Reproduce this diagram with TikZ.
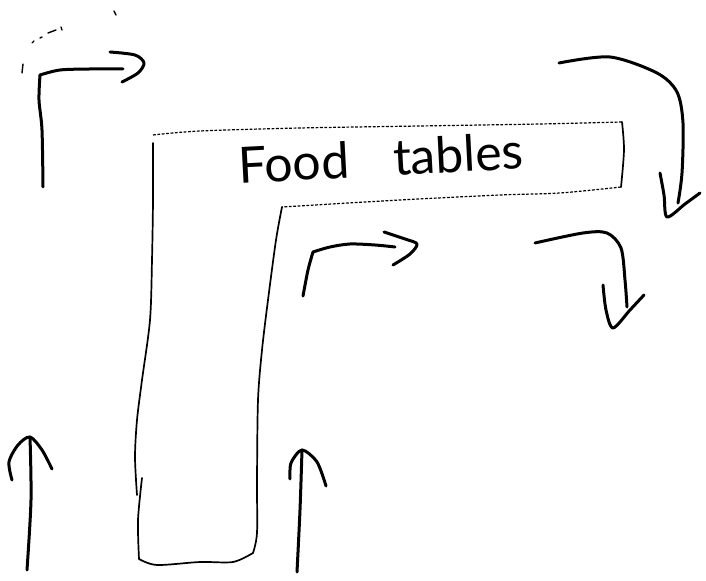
\documentclass[tikz,border=0pt]{standalone}
\usepackage{fontspec}
\newfontfamily\handfont{Lato}
\begin{document}
\begin{tikzpicture}[x=0.5pt,y=-0.5pt,
  pen/.style={line width=1.5pt, line cap=round, line join=round},
  boxline/.style={line width=0.85pt, line cap=round, line join=round},
  dotline/.style={line width=0.6pt, dash pattern=on 1.4pt off 0.8pt},
  speck/.style={line width=0.7pt, line cap=round}]
\useasboundingbox[fill=white] (0,0) rectangle (706,581);

% ---------- L-shaped food tables outline ----------
\draw[dotline] plot[smooth] coordinates {(153,135) (200,131) (300,128) (420,126) (540,124) (622,122)};
\draw[boxline] plot[smooth] coordinates {(622,122) (624,150) (621,187)};
\draw[dotline] plot[smooth] coordinates {(621,187) (560,193) (500,195) (400,200) (282,207)};
\draw[boxline] plot[smooth] coordinates {(282,207) (276,240) (268,300) (262,350) (258,400) (257,480) (257,533) (253,553)};
\draw[boxline] plot[smooth] coordinates {(253,553) (233,562) (200,562) (157,565) (139,559)};
\draw[boxline] plot[smooth] coordinates {(139,559) (138,520) (142,478)};
\draw[boxline] plot[smooth] coordinates {(137,495) (135,457) (137,420) (142,380) (150,320) (152,260) (153,200) (153,143)};

\node[font=\handfont\fontsize{25}{28}\selectfont, rotate=3] (label) at (381,158) {Food\hspace{22pt}tables};

% ---------- top-left arrow ----------
\draw[pen] plot[smooth] coordinates {(43,187) (42,130) (39,100) (40,75)};
\draw[pen] plot[smooth] coordinates {(40,75) (60,70) (90,69) (123,69)};
\draw[pen] plot[smooth] coordinates {(110,52) (135,55) (144,63) (138,73) (122,82)};

% specks near the top-left arrow
\draw[speck] (23,64) -- (22,73);
\draw[speck] (32,43) -- (34,41);
\draw[speck] (40,38) -- (42,37);
\draw[speck] (48,33) -- (56,30);
\draw[speck] (61,27) -- (62,30);
\draw[speck] (114,11) -- (116,15);

% ---------- middle arrow ----------
\draw[pen] plot[smooth] coordinates {(303,296) (308,270) (313,252)};
\draw[pen] plot[smooth] coordinates {(313,252) (330,247) (350,244) (375,245) (395,247)};
\draw[pen] plot[smooth] coordinates {(384,232) (405,239) (417,244) (410,254) (393,265)};

% ---------- top-right big arrow ----------
\draw[pen] plot[smooth] coordinates {(559,63) (610,57) (657,73) (677,92) (683,123) (682,173) (678,203)};
\draw[pen] plot[smooth] coordinates {(660,173) (664,195) (667,217) (685,204) (700,193)};

% ---------- right small arrow ----------
\draw[pen] plot[smooth] coordinates {(535,243) (583,233) (607,233) (621,248) (625,280) (627,307)};
\draw[pen] plot[smooth] coordinates {(603,285) (606,310) (613,328) (630,310) (644,295)};

% ---------- bottom up arrows ----------
\draw[pen] plot[smooth] coordinates {(27,570) (31,500) (30,437)};
\draw[pen] plot[smooth] coordinates {(12,480) (9,462) (18,445) (30,437) (42,450) (52,469)};
\draw[pen] plot[smooth] coordinates {(297,572) (300,510) (302,450)};
\draw[pen] plot[smooth] coordinates {(290,479) (291,463) (302,450) (317,462) (326,486)};
\end{tikzpicture}
\end{document}
